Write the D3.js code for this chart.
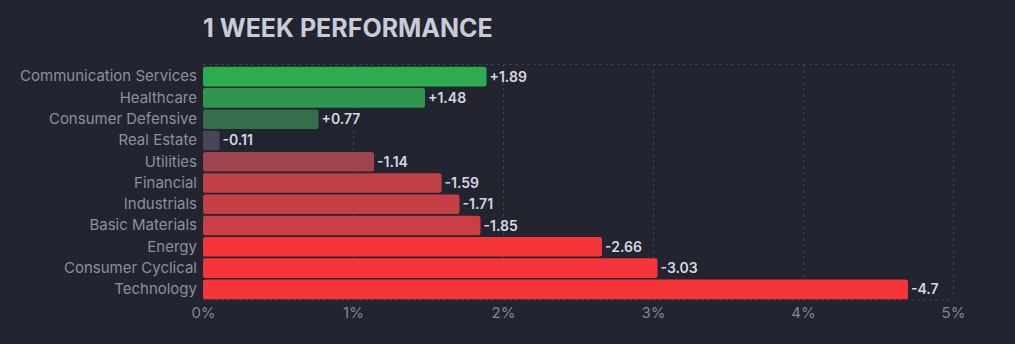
<!DOCTYPE html>
<html><head><meta charset="utf-8">
<script src="https://cdn.jsdelivr.net/npm/d3@7"></script>
<style>
html,body{margin:0;padding:0;background:#22252f;}
svg{display:block;font-family:Inter, "Noto Sans", sans-serif;}
</style></head>
<body>
<svg id="chart" width="1015" height="344"></svg>
<script>
const categories = ["Communication Services","Healthcare","Consumer Defensive","Real Estate","Utilities","Financial","Industrials","Basic Materials","Energy","Consumer Cyclical","Technology"];
const values = [1.89, 1.48, 0.77, -0.11, -1.14, -1.59, -1.71, -1.85, -2.66, -3.03, -4.7];
const barColors = ["#2eaa50","#30964f","#356d4d","#4a4458","#9d444e","#c04248","#c73f46","#ca3f45","#f6353a","#f6353a","#f6353a"];
const tickValues = [0,1,2,3,4,5];
const tickLabels = ["0%","1%","2%","3%","4%","5%"];
const title = "1 WEEK PERFORMANCE";

const svg = d3.select("#chart");
const m = {left:203, right:953, top:64, bottom:299.5};
const x = d3.scaleLinear().domain([0,5]).range([m.left, m.right]);
const y = d3.scaleBand().domain(categories).range([66, 300]).paddingInner(0.08).paddingOuter(0.04);

svg.append("rect").attr("width",1015).attr("height",344).attr("fill","#22252f");

// grid
const grid = svg.append("g");
grid.selectAll("line.v").data(tickValues).join("line")
  .attr("x1",d=>x(d)+0.5).attr("x2",d=>x(d)+0.5).attr("y1",m.top).attr("y2",m.bottom)
  .attr("stroke","#3a3e4c").attr("stroke-dasharray","3,3").attr("stroke-width",1);
grid.selectAll("line.h").data([m.top,m.bottom]).join("line")
  .attr("x1",m.left).attr("x2",m.right).attr("y1",d=>d+0.5).attr("y2",d=>d+0.5)
  .attr("stroke","#3a3e4c").attr("stroke-dasharray","3,3").attr("stroke-width",1);

// bars
svg.append("g").selectAll("rect").data(values).join("rect")
  .attr("x",x(0)).attr("y",(d,i)=>y(categories[i]))
  .attr("width",d=>x(Math.abs(d))-x(0)).attr("height",y.bandwidth())
  .attr("rx",2.5).attr("fill",(d,i)=>barColors[i]);

// value labels
svg.append("g").selectAll("text").data(values).join("text")
  .attr("x",d=>x(Math.abs(d))+3).attr("y",(d,i)=>y(categories[i])+y.bandwidth()/2)
  .attr("dy","0.36em").attr("fill","#d5d7e1").attr("font-size",14).attr("font-weight",600)
  .text(d=>d>0?"+"+d:String(d));

// category axis
const ya = d3.axisLeft(y).tickSize(0).tickPadding(6);
const yg = svg.append("g").attr("transform",`translate(${m.left},0)`).call(ya);
yg.select(".domain").remove();
yg.selectAll("text").attr("fill","#8b8fa3").attr("font-size",15).attr("font-family","Inter, sans-serif");

// x axis
const xa = d3.axisBottom(x).tickValues(tickValues).tickFormat((d,i)=>tickLabels[i]).tickSize(0).tickPadding(8);
const xg = svg.append("g").attr("transform",`translate(0,${m.bottom})`).call(xa);
xg.select(".domain").remove();
xg.selectAll("text").attr("fill","#80859a").attr("font-size",15).attr("font-family","Inter, sans-serif");

// title
svg.append("text").attr("x",203).attr("y",37).attr("fill","#c9cbd8")
  .attr("font-size",25).attr("font-weight",700).text(title);
</script>
</body></html>
